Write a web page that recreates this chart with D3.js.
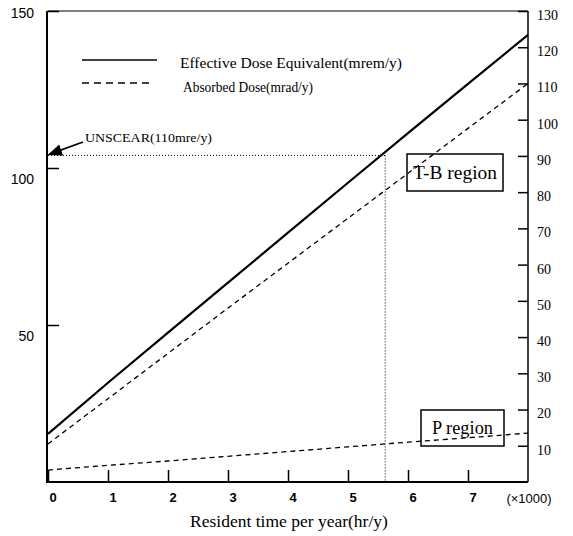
<!DOCTYPE html>
<html><head><meta charset="utf-8">
<script src="https://cdn.jsdelivr.net/npm/d3@7"></script>
<style>body{margin:0;background:#fff}svg{display:block}</style>
</head><body>
<svg id="c" width="573" height="536"></svg>
<script>
// Data (x in thousands of hours per year)
const hours = [0, 1, 2, 3, 4, 5, 6, 7, 8];
const effectiveDose = [15.3, 31.6, 47.6, 63.5, 79.4, 95.3, 111.1, 126.8, 142.4];   // left axis (mrem/y)
const absorbedTB = [10.5, 23.0, 35.5, 48.0, 60.4, 72.8, 85.2, 97.6, 110.0];       // right axis (mrad/y)
const absorbedP = [3.3, 4.6, 5.8, 7.1, 8.4, 9.7, 11.0, 12.2, 13.5];               // right axis (mrad/y)
const leftTicks = [50, 100, 150];
const rightTicks = [10, 20, 30, 40, 50, 60, 70, 80, 90, 100, 110, 120, 130];
const xTicks = [0, 1, 2, 3, 4, 5, 6, 7];
const unscearLevel = 104;
const unscearTime = 5.62;

const svg = d3.select("#c");
const X0 = 48, X1 = 528, Y0 = 482, Y1 = 11;
const x = d3.scaleLinear().domain([0, 8]).range([X0, X1]);
const yL = d3.scaleLinear().domain([0, 150]).range([Y0, Y1]);
const yR = d3.scaleLinear().domain([0, 130]).range([Y0, Y1]);
const serif = "Liberation Serif, Times New Roman, serif";
const sans = "Liberation Sans, Arial, sans-serif";

// frame
svg.append("line").attr("x1", X0).attr("x2", X1).attr("y1", Y1).attr("y2", Y1).attr("stroke", "#000").attr("stroke-width", 1);
svg.append("line").attr("x1", X1).attr("x2", X1).attr("y1", Y1).attr("y2", Y0).attr("stroke", "#000").attr("stroke-width", 1.5);
svg.append("line").attr("x1", X0 - 1).attr("x2", X0 - 1).attr("y1", Y1).attr("y2", Y0 + 1).attr("stroke", "#000").attr("stroke-width", 2);
svg.append("line").attr("x1", X0 - 2).attr("x2", X1).attr("y1", Y0).attr("y2", Y0).attr("stroke", "#000").attr("stroke-width", 2);

// left axis
const gL = svg.append("g").attr("transform", `translate(${X0 - 1},0)`)
  .call(d3.axisLeft(yL).tickValues(leftTicks).tickSize(-12).tickPadding(13));
gL.select(".domain").remove();
gL.selectAll(".tick line").attr("stroke-width", 1.5);
gL.selectAll("text").attr("font-family", sans).attr("font-size", 14).attr("fill", "#000").attr("dy", "0.75em")
  .attr("transform", (d) => d === 150 ? "translate(0,-4)" : "translate(0,5)");

// right axis
const gR = svg.append("g").attr("transform", `translate(${X1},0)`)
  .call(d3.axisRight(yR).tickValues(rightTicks).tickSize(-10).tickPadding(9));
gR.select(".domain").remove();
gR.selectAll(".tick line").attr("stroke-width", 1.5);
gR.selectAll("text").attr("font-family", serif).attr("font-size", 14).attr("fill", "#000").attr("dy", "0.6em");

// bottom axis
const gB = svg.append("g").attr("transform", `translate(0,${Y0})`)
  .call(d3.axisBottom(x).tickValues(xTicks).tickSize(-12).tickPadding(11));
gB.select(".domain").remove();
gB.selectAll(".tick line").attr("stroke-width", 1.5);
gB.selectAll("text").attr("font-family", sans).attr("font-size", 13).attr("font-weight", "bold").attr("fill", "#000").attr("dx", "0.35em");
svg.append("text").attr("x", 529).attr("y", 503).attr("text-anchor", "middle")
  .attr("font-family", sans).attr("font-size", 13).text("(\u00d71000)");
svg.append("text").attr("x", 289).attr("y", 527).attr("text-anchor", "middle")
  .attr("font-family", serif).attr("font-size", 17.5).text("Resident time per year(hr/y)");

// UNSCEAR reference lines
svg.append("line").attr("x1", X0).attr("x2", x(unscearTime)).attr("y1", yL(unscearLevel)).attr("y2", yL(unscearLevel))
  .attr("stroke", "#000").attr("stroke-width", 1).attr("stroke-dasharray", "1,2");
svg.append("line").attr("x1", x(unscearTime)).attr("x2", x(unscearTime)).attr("y1", yL(unscearLevel)).attr("y2", Y0)
  .attr("stroke", "#000").attr("stroke-width", 1).attr("stroke-dasharray", "1,2");

// arrow
svg.append("defs").append("marker").attr("id", "ah").attr("viewBox", "0 0 10 10").attr("refX", 9).attr("refY", 5)
  .attr("markerWidth", 8).attr("markerHeight", 8).attr("orient", "auto-start-reverse")
  .append("path").attr("d", "M0,1 L10,5 L0,9 z").attr("fill", "#000");
svg.append("line").attr("x1", 83).attr("y1", 142).attr("x2", X0 + 1).attr("y2", yL(unscearLevel) - 1)
  .attr("stroke", "#000").attr("stroke-width", 1.8).attr("marker-end", "url(#ah)");
svg.append("text").attr("x", 85).attr("y", 142).attr("font-family", serif).attr("font-size", 13)
  .attr("textLength", 127).attr("lengthAdjust", "spacingAndGlyphs").text("UNSCEAR(110mre/y)");

// lines
const lineL = d3.line().x((d, i) => x(hours[i])).y(d => yL(d));
const lineR = d3.line().x((d, i) => x(hours[i])).y(d => yR(d));
svg.append("path").attr("d", lineL(effectiveDose)).attr("fill", "none").attr("stroke", "#000").attr("stroke-width", 2.2);
svg.append("path").attr("d", lineR(absorbedTB)).attr("fill", "none").attr("stroke", "#000").attr("stroke-width", 1.3).attr("stroke-dasharray", "5,4");
svg.append("path").attr("d", lineR(absorbedP)).attr("fill", "none").attr("stroke", "#000").attr("stroke-width", 1.3).attr("stroke-dasharray", "5,4");

// region boxes
function box(x0, y0, w, h, label, tl) {
  svg.append("rect").attr("x", x0).attr("y", y0).attr("width", w).attr("height", h).attr("fill", "none").attr("stroke", "#000").attr("stroke-width", 1.5);
  svg.append("text").attr("x", x0 + w / 2).attr("y", y0 + h / 2 + 6).attr("text-anchor", "middle")
    .attr("font-family", serif).attr("font-size", 18).attr("textLength", tl).attr("lengthAdjust", "spacingAndGlyphs").text(label);
}
box(407, 154, 96, 37, "T-B region", 84);
box(421, 410, 83, 36, "P region", 61);

// legend
svg.append("line").attr("x1", 82).attr("x2", 157).attr("y1", 60).attr("y2", 60).attr("stroke", "#000").attr("stroke-width", 1.5);
svg.append("line").attr("x1", 82).attr("x2", 152).attr("y1", 83).attr("y2", 83).attr("stroke", "#000").attr("stroke-width", 1.3).attr("stroke-dasharray", "7,5");
svg.append("text").attr("x", 180).attr("y", 68).attr("font-family", serif).attr("font-size", 14.5)
  .attr("textLength", 222).attr("lengthAdjust", "spacingAndGlyphs").text("Effective Dose Equivalent(mrem/y)");
svg.append("text").attr("x", 183).attr("y", 92).attr("font-family", serif).attr("font-size", 14)
  .attr("textLength", 130).attr("lengthAdjust", "spacingAndGlyphs").text("Absorbed Dose(mrad/y)");
</script>
</body></html>
